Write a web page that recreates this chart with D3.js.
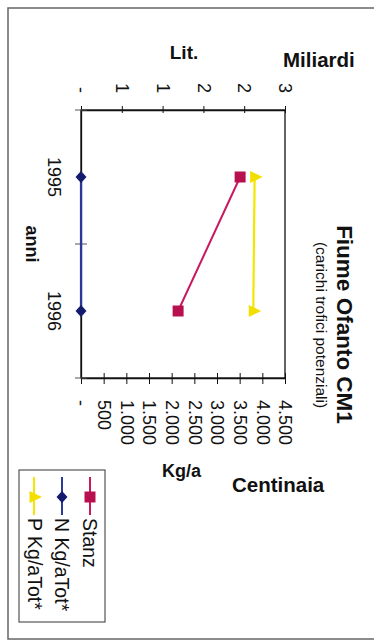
<!DOCTYPE html>
<html>
<head>
<meta charset="utf-8">
<script src="https://cdn.jsdelivr.net/npm/d3@7"></script>
<style>
  html, body { margin: 0; padding: 0; background: #fff; }
  svg { display: block; font-family: "Liberation Sans", Arial, sans-serif; }
</style>
</head>
<body>
<svg id="chart" width="374" height="641"></svg>
<script>
// ---- data ----
const categories = ["1995", "1996"];
const stanzValues = [1.95, 1.19];        // Lit. Miliardi
const nValues = [0, 0];                  // Kg/a Centinaia
const pValues = [3830, 3800];            // Kg/a Centinaia
const litTicks = [0, 0.5, 1, 1.5, 2, 2.5];
const kgTicks = [0, 500, 1000, 1500, 2000, 2500, 3000, 3500, 4000, 4500];
const seriesNames = ["Stanz", "N Kg/aTot*", "P Kg/aTot*"];
const titleText = "Fiume Ofanto CM1";
const subtitleText = "(carichi trofici potenziali)";

// ---- styles ----
const colStanz = "#c8185e", colStanzMark = "#b8104f";
const colN = "#2b3a9a", colNMark = "#141a6e";
const colP = "#f5e600", colPMark = "#f2df00";

const svg = d3.select("#chart");

// outer frame
svg.append("rect").attr("x", 8).attr("y", 8).attr("width", 380).attr("height", 631)
  .attr("fill", "none").attr("stroke", "#666").attr("stroke-width", 1.5);

// scales (chart is drawn rotated: categories run down, values run right)
const plot = { x0: 81, x1: 285, y0: 110, y1: 378 };
const xLit = d3.scaleLinear().domain([0, 2.5]).range([plot.x0, plot.x1]);
const xKg = d3.scaleLinear().domain([0, 4500]).range([plot.x0, plot.x1]);
const yCat = d3.scaleBand().domain(categories).range([plot.y0, plot.y1]);
const yMid = c => yCat(c) + yCat.bandwidth() / 2;

// plot frame
svg.append("rect").attr("x", plot.x0).attr("y", plot.y0)
  .attr("width", plot.x1 - plot.x0).attr("height", plot.y1 - plot.y0)
  .attr("fill", "none").attr("stroke", "#111").attr("stroke-width", 1.3);

// top axis: Lit. Miliardi
const litFmt = v => v === 0 ? "-" : String(Math.round(v));
const gTop = svg.append("g").attr("transform", `translate(0,${plot.y0})`)
  .call(d3.axisTop(xLit).tickValues(litTicks).tickFormat(litFmt).tickSize(0));
gTop.select(".domain").attr("stroke", "#111").attr("stroke-width", 1.3);
gTop.selectAll(".tick line").attr("y1", -4).attr("y2", 3).attr("stroke", "#111");
gTop.selectAll(".tick text")
  .attr("x", 0).attr("y", 0).attr("dy", "0.35em")
  .attr("transform", "translate(0,-17) rotate(90)")
  .attr("text-anchor", "end")
  .attr("font-size", 18).attr("fill", "#111")
  .attr("font-family", "Liberation Sans, Arial, sans-serif");

// bottom axis: Kg/a Centinaia
const kgFmt = v => v === 0 ? "-" : d3.format(",")(v).replace(/,/g, ".");
const gBot = svg.append("g").attr("transform", `translate(0,${plot.y1})`)
  .call(d3.axisBottom(xKg).tickValues(kgTicks).tickFormat(kgFmt).tickSize(0));
gBot.select(".domain").attr("stroke", "#111").attr("stroke-width", 1.3);
gBot.selectAll(".tick line").attr("y1", -5).attr("y2", 6).attr("stroke", "#111");
gBot.selectAll(".tick text")
  .attr("x", 0).attr("y", 0).attr("dy", "0.35em")
  .attr("transform", "translate(0,22) rotate(90)")
  .attr("text-anchor", "start")
  .attr("font-size", 18).attr("fill", "#111")
  .attr("font-family", "Liberation Sans, Arial, sans-serif");

// left category axis
const gLeft = svg.append("g").attr("transform", `translate(${plot.x0},0)`)
  .call(d3.axisLeft(yCat).tickSize(0).tickFormat(""));
gLeft.select(".domain").attr("stroke", "#111").attr("stroke-width", 1.3);
const catBounds = categories.map(c => yCat(c)).concat([plot.y1]);
svg.append("g").selectAll("line").data(catBounds).join("line")
  .attr("x1", plot.x0 - 6).attr("x2", plot.x0 + 6)
  .attr("y1", d => d).attr("y2", d => d)
  .attr("stroke", "#555").attr("stroke-width", 1);
svg.append("g").selectAll("text").data(categories).join("text")
  .attr("transform", d => `translate(54.5,${yMid(d)}) rotate(90)`)
  .attr("text-anchor", "middle").attr("dy", "0.35em")
  .attr("font-size", 18).attr("fill", "#111").text(d => d);

// axis titles
svg.append("text").attr("transform", `translate(26,${(plot.y0 + plot.y1) / 2}) rotate(90)`)
  .attr("text-anchor", "middle").attr("font-size", 18).attr("font-weight", "bold")
  .attr("fill", "#111").text("anni");
svg.append("text").attr("x", 184).attr("y", 59).attr("text-anchor", "middle")
  .attr("font-size", 19).attr("font-weight", "bold").attr("fill", "#111").text("Lit.");
svg.append("text").attr("x", 283).attr("y", 66.5)
  .attr("font-size", 20.5).attr("font-weight", "bold").attr("fill", "#111").text("Miliardi");
svg.append("text").attr("x", 162).attr("y", 477)
  .attr("font-size", 18).attr("font-weight", "bold").attr("fill", "#111").text("Kg/a");
svg.append("text").attr("x", 232).attr("y", 492)
  .attr("font-size", 20.5).attr("font-weight", "bold").attr("fill", "#111").text("Centinaia");

// title and subtitle
svg.append("text").attr("transform", "translate(337,324.5) rotate(90)")
  .attr("text-anchor", "middle").attr("font-size", 22.5).attr("font-weight", "bold")
  .attr("fill", "#111").text(titleText);
svg.append("text").attr("transform", "translate(316,325) rotate(90)")
  .attr("text-anchor", "middle").attr("font-size", 15.5)
  .attr("fill", "#111").text(subtitleText);

// marker shapes
const sq = "M-5.5,-5.5H5.5V5.5H-5.5Z";
const dia = "M0,-6L5.5,0L0,6L-5.5,0Z";
const tri = "M-4.5,-6L-4.5,6L8,0Z";

// series lines
const lineOf = (scale, vals) => d3.line()
  .x((d, i) => scale(vals[i])).y((d, i) => yMid(categories[i]))(categories);

svg.append("path").attr("d", lineOf(xKg, pValues)).attr("fill", "none")
  .attr("stroke", colP).attr("stroke-width", 2.2);
svg.append("path").attr("d", lineOf(xLit, stanzValues)).attr("fill", "none")
  .attr("stroke", colStanz).attr("stroke-width", 2);
svg.append("path").attr("d", lineOf(xKg, nValues)).attr("fill", "none")
  .attr("stroke", colN).attr("stroke-width", 2.2);

// markers
svg.append("g").selectAll("path").data(categories).join("path")
  .attr("transform", (c, i) => `translate(${xKg(pValues[i])},${yMid(c)})`)
  .attr("d", tri).attr("fill", colPMark);
svg.append("g").selectAll("path").data(categories).join("path")
  .attr("transform", (c, i) => `translate(${xLit(stanzValues[i])},${yMid(c)})`)
  .attr("d", sq).attr("fill", colStanzMark);
svg.append("g").selectAll("path").data(categories).join("path")
  .attr("transform", (c, i) => `translate(${xKg(nValues[i])},${yMid(c)})`)
  .attr("d", dia).attr("fill", colNMark);

// legend
const lg = svg.append("g");
lg.append("rect").attr("x", 19).attr("y", 470).attr("width", 86).attr("height", 152)
  .attr("fill", "#fff").attr("stroke", "#333").attr("stroke-width", 1);
const legendItems = [
  { name: seriesNames[0], x: 90, base: 82.5, col: colStanz, mcol: colStanzMark, shape: sq },
  { name: seriesNames[1], x: 62, base: 55, col: colN, mcol: colNMark, shape: dia },
  { name: seriesNames[2], x: 34, base: 28, col: colP, mcol: colPMark, shape: tri }
];
legendItems.forEach(it => {
  lg.append("line").attr("x1", it.x).attr("x2", it.x).attr("y1", 477).attr("y2", 515)
    .attr("stroke", it.col).attr("stroke-width", 2);
  lg.append("path").attr("transform", `translate(${it.x},497)`).attr("d", it.shape)
    .attr("fill", it.mcol);
  lg.append("text").attr("transform", `translate(${it.base},518) rotate(90)`)
    .attr("font-size", 19.5).attr("fill", "#111").text(it.name);
});
</script>
</body>
</html>
